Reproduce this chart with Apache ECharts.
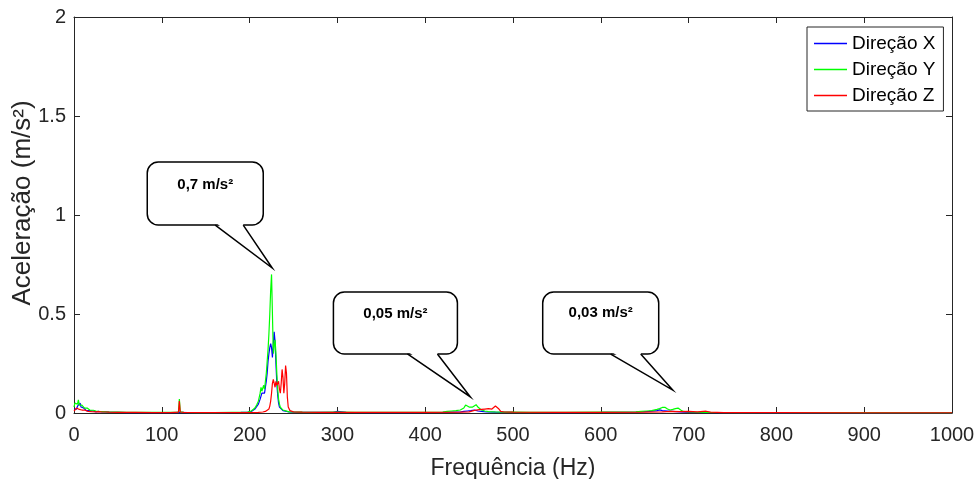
<!DOCTYPE html>
<html>
<head>
<meta charset="utf-8">
<script src="https://cdn.jsdelivr.net/npm/echarts@6/dist/echarts.min.js"></script>
<style>
html,body{margin:0;padding:0;background:#fff;}
#c{width:980px;height:479px;}
</style>
</head>
<body>
<div id="c"></div>
<script>
// ---- data (frequency Hz, acceleration m/s²) ----
const seriesNames = ['Direção X', 'Direção Y', 'Direção Z'];
const xTicks = [0, 100, 200, 300, 400, 500, 600, 700, 800, 900, 1000];
const yTicks = [0, 0.5, 1, 1.5, 2];

const dirX = [
  [0,0.02],[1,0.015],[2,0.03],[3,0.02],[4,0.035],[5,0.025],[6,0.04],[7,0.05],[8,0.03],[9,0.035],
  [10,0.02],[11,0.025],[12,0.015],[13,0.02],[14,0.012],[15,0.018],[16,0.01],[18,0.012],[20,0.008],
  [22,0.01],[25,0.006],[28,0.008],[32,0.005],[36,0.006],[40,0.004],[50,0.003],[60,0.002],[80,0.002],
  [100,0.002],[115,0.002],[119,0.003],[120,0.01],[121,0.003],[130,0.002],[150,0.002],[170,0.002],
  [190,0.003],[198,0.004],[200,0.005],[202,0.008],[204,0.012],[206,0.02],[208,0.03],[210,0.045],
  [212,0.07],[213,0.08],[214,0.1],[215,0.09],[216,0.11],[217,0.1],[218,0.13],[219,0.16],[220,0.2],
  [221,0.26],[222,0.3],[223,0.33],[224,0.35],[225,0.33],[226,0.28],[227,0.35],[228,0.41],[229,0.36],
  [230,0.25],[231,0.15],[232,0.09],[233,0.05],[234,0.03],[236,0.02],[238,0.012],[240,0.008],
  [245,0.005],[250,0.004],[260,0.003],[280,0.003],[295,0.003],[300,0.008],[302,0.005],[310,0.003],
  [340,0.002],[380,0.002],[420,0.003],[430,0.004],[440,0.005],[444,0.008],[448,0.01],[452,0.012],
  [456,0.015],[460,0.01],[464,0.008],[470,0.005],[480,0.004],[500,0.003],[550,0.002],[600,0.003],
  [640,0.004],[655,0.008],[664,0.012],[667,0.016],[670,0.012],[676,0.01],[682,0.008],[690,0.005],
  [700,0.003],[730,0.002],[800,0.001],[900,0.001],[1000,0.001]
];

const dirY = [
  [0,0.03],[1,0.05],[2,0.04],[3,0.06],[4,0.045],[5,0.066],[6,0.04],[7,0.05],[8,0.035],[9,0.04],
  [10,0.03],[11,0.035],[12,0.025],[13,0.03],[14,0.02],[15,0.025],[16,0.018],[17,0.02],[18,0.015],
  [20,0.012],[22,0.014],[25,0.01],[28,0.008],[32,0.007],[36,0.006],[40,0.005],[50,0.004],[60,0.003],
  [80,0.003],[100,0.003],[115,0.003],[119,0.005],[120,0.07],[121,0.006],[125,0.003],[140,0.002],
  [160,0.002],[180,0.003],[190,0.003],[198,0.005],[200,0.007],[202,0.01],[204,0.016],[206,0.025],
  [208,0.04],[210,0.06],[211,0.08],[212,0.1],[213,0.13],[214,0.11],[215,0.12],[216,0.14],[217,0.12],
  [218,0.16],[219,0.2],[220,0.26],[221,0.32],[222,0.4],[223,0.5],[224,0.62],[225,0.7],[226,0.5],
  [227,0.3],[228,0.34],[229,0.37],[230,0.3],[231,0.2],[232,0.12],[233,0.07],[234,0.045],[235,0.03],
  [236,0.025],[238,0.015],[240,0.01],[245,0.006],[250,0.005],[260,0.004],[280,0.003],[300,0.004],
  [320,0.003],[360,0.003],[400,0.003],[420,0.005],[425,0.008],[430,0.01],[435,0.012],[440,0.015],
  [442,0.018],[444,0.025],[446,0.04],[448,0.05],[450,0.03],[452,0.025],[454,0.03],[456,0.035],
  [458,0.042],[460,0.03],[462,0.02],[464,0.015],[468,0.01],[472,0.007],[480,0.005],[490,0.004],
  [500,0.004],[520,0.003],[560,0.003],[600,0.004],[630,0.005],[640,0.006],[646,0.008],[652,0.01],
  [658,0.012],[664,0.018],[667,0.022],[670,0.028],[673,0.029],[676,0.02],[679,0.015],[682,0.018],
  [685,0.022],[688,0.025],[691,0.015],[694,0.008],[700,0.005],[720,0.003],[760,0.002],[850,0.002],
  [1000,0.001]
];

const dirZ = [
  [0,0.01],[1,0.02],[2,0.015],[3,0.025],[4,0.02],[5,0.03],[6,0.018],[7,0.025],[8,0.02],[9,0.015],
  [10,0.02],[11,0.012],[12,0.015],[13,0.01],[14,0.012],[16,0.008],[18,0.01],[20,0.007],[22,0.009],
  [25,0.006],[28,0.007],[32,0.005],[36,0.005],[40,0.004],[50,0.003],[70,0.003],[90,0.002],[110,0.002],
  [119,0.004],[120,0.06],[121,0.005],[125,0.003],[150,0.002],[180,0.002],[200,0.002],[210,0.003],
  [215,0.005],[218,0.008],[220,0.012],[222,0.02],[223,0.035],[224,0.06],[225,0.1],[226,0.15],
  [227,0.17],[228,0.15],[229,0.13],[230,0.16],[231,0.14],[232,0.15],[233,0.16],[234,0.12],[235,0.1],
  [236,0.15],[237,0.22],[238,0.18],[239,0.1],[240,0.15],[241,0.24],[242,0.2],[243,0.08],[244,0.03],
  [246,0.012],[248,0.008],[250,0.006],[260,0.004],[280,0.003],[300,0.003],[340,0.003],[358,0.003],
  [360,0.01],[362,0.003],[400,0.003],[440,0.004],[450,0.006],[455,0.012],[458,0.015],[460,0.012],
  [464,0.018],[466,0.014],[468,0.02],[470,0.016],[472,0.022],[474,0.03],[476,0.02],[478,0.015],
  [480,0.035],[482,0.04],[484,0.02],[486,0.008],[490,0.005],[500,0.004],[550,0.003],[600,0.003],
  [650,0.004],[670,0.006],[680,0.008],[690,0.007],[700,0.008],[710,0.006],[720,0.009],[725,0.004],
  [740,0.002],[800,0.002],[900,0.001],[1000,0.001]
];

// callout annotations: text and the data point their tail points to
const calloutText = ['0,7 m/s²', '0,05 m/s²', '0,03 m/s²'];
const calloutAnchor = [[225.8, 0.732], [451.5, 0.081], [681.9, 0.116]];

const seriesColors = ['#0000ff', '#00ff00', '#ff0000'];
const FONT = '"Liberation Sans", Arial, Helvetica, sans-serif';
const AX = '#262626';

const chart = echarts.init(document.getElementById('c'), null, {renderer: 'canvas'});

function mkAxis(extra, showLabels, margin, ticks) {
  return Object.assign({
    axisLine: {show: true, onZero: false, lineStyle: {color: AX, width: 1}},
    axisTick: {show: true, inside: true, length: 6, lineStyle: {color: AX, width: 1}},
    splitLine: {show: false},
    axisLabel: {show: showLabels, color: AX, fontFamily: FONT, fontSize: 20, margin: margin,
      formatter: v => ticks.includes(v) ? String(v) : ''}
  }, extra);
}

const option = {
  animation: false,
  backgroundColor: '#ffffff',
  grid: {left: 74, right: 28, top: 17, bottom: 66, containLabel: false, outerBoundsMode: 'none'},
  legend: {
    show: true,
    data: seriesNames,
    orient: 'vertical',
    left: 807, top: 27,
    icon: 'rect',
    itemWidth: 33, itemHeight: 1.5, itemGap: 7,
    padding: [7, 8, 6, 7],
    borderColor: AX, borderWidth: 1, backgroundColor: '#fff',
    textStyle: {fontFamily: FONT, fontSize: 19, color: '#000', lineHeight: 18}
  },
  xAxis: [
    mkAxis({type: 'value', min: 0, max: 1000, interval: 100, position: 'bottom',
      name: 'Frequência (Hz)', nameLocation: 'middle', nameGap: 44,
      nameTextStyle: {fontFamily: FONT, fontSize: 23, color: AX}}, true, 12, xTicks),
    mkAxis({type: 'value', min: 0, max: 1000, interval: 100, position: 'top'}, false, 8, xTicks)
  ],
  yAxis: [
    mkAxis({type: 'value', min: 0, max: 2, interval: 0.5, position: 'left',
      name: 'Aceleração (m/s²)', nameLocation: 'middle', nameGap: 38, nameMoveOverlap: false,
      nameTextStyle: {fontFamily: FONT, fontSize: 26, color: AX, padding: [0, 0, 0, 24]}}, true, 8, yTicks),
    mkAxis({type: 'value', min: 0, max: 2, interval: 0.5, position: 'right'}, false, 8, yTicks)
  ],
  series: [dirX, dirY, dirZ].map((d, i) => ({
    name: seriesNames[i], type: 'line', data: d, xAxisIndex: 0, yAxisIndex: 0,
    symbol: 'none', showSymbol: false, smooth: false,
    lineStyle: {width: 1.2, color: seriesColors[i]}, itemStyle: {color: seriesColors[i]},
    z: 2 + i
  }))
};
chart.setOption(option);

// callout balloons (pixel offsets of box relative to tail tip)
const boxGeom = [
  {dx: -125, dy: -106, w: 116, h: 63, b1: -57, b2: -29, ty: 23},
  {dx: -137, dy: -105, w: 124, h: 62, b1: -63, b2: -33, ty: 22},
  {dx: -130, dy: -98,  w: 116, h: 62, b1: -62, b2: -32, ty: 21}
];
const graphics = [];
calloutAnchor.forEach((a, i) => {
  const p = chart.convertToPixel({xAxisIndex: 0, yAxisIndex: 0}, a);
  const g = boxGeom[i];
  const left = p[0] + g.dx, top = p[1] + g.dy, bottom = top + g.h;
  const x1 = p[0] + g.b1, x2 = p[0] + g.b2;
  graphics.push({type: 'rect', z: 100, shape: {x: left, y: top, width: g.w, height: g.h, r: 11},
    style: {fill: '#fff', stroke: '#000', lineWidth: 1.5}});
  graphics.push({type: 'polygon', z: 101, shape: {points: [[x1 + 1, bottom - 2], [p[0], p[1]], [x2 - 1, bottom - 2]]},
    style: {fill: '#fff', stroke: null}});
  graphics.push({type: 'polyline', z: 102, shape: {points: [[x1, bottom], [p[0], p[1]], [x2, bottom]]},
    style: {fill: null, stroke: '#000', lineWidth: 1.5}});
  graphics.push({type: 'text', z: 103, style: {text: calloutText[i], x: left + g.w / 2, y: top + g.ty,
    textAlign: 'center', textVerticalAlign: 'middle', fill: '#000',
    font: 'bold 15px ' + FONT}});
});
chart.setOption({graphic: graphics});
</script>
</body>
</html>
